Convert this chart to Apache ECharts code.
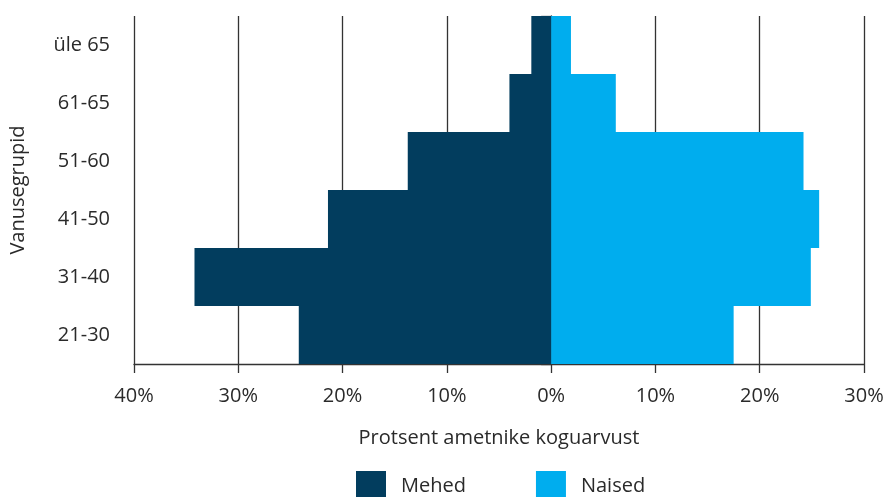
<!DOCTYPE html>
<html><head><meta charset="utf-8">
<script src="https://cdn.jsdelivr.net/npm/echarts@6/dist/echarts.min.js"></script>
<style>html,body{margin:0;padding:0;background:#fff}#c{width:887px;height:497px}</style>
</head><body><div id="c"></div>
<script>
const categories = ['21-30', '31-40', '41-50', '51-60', '61-65', 'üle 65'];
const mehed = [24.2, 34.2, 21.4, 13.75, 4.0, 1.9];
const naised = [17.5, 24.9, 25.7, 24.2, 6.2, 1.9];
const xTicks = { min: -40, max: 30, interval: 10 };
const FONT = 'Open Sans';
const FS = 20;
const TXT = '#2a2a2a';
const chart = echarts.init(document.getElementById('c'));
chart.setOption({
  animation: false,
  textStyle: { fontFamily: FONT },
  grid: { left: 131, right: 23, top: 16, bottom: 133 },
  legend: {
    left: 351, top: 466, itemWidth: 30, itemHeight: 30, itemGap: 70,
    icon: 'rect',
    textStyle: { fontFamily: FONT, fontSize: FS, color: TXT, padding: [9, 0, 0, 10] },
    data: ['Mehed', 'Naised']
  },
  xAxis: {
    type: 'value', min: xTicks.min, max: xTicks.max, interval: xTicks.interval,
    name: 'Protsent ametnike koguarvust', nameLocation: 'middle', nameGap: 64,
    nameTextStyle: { fontSize: FS, color: TXT, fontFamily: FONT },
    axisLine: { show: true, lineStyle: { color: '#333', width: 1.3 } },
    axisTick: { show: true, length: 9, lineStyle: { color: '#333', width: 1.3 } },
    axisLabel: { formatter: v => Math.abs(v) + '%', fontSize: FS, color: TXT, margin: 22, fontFamily: FONT },
    splitLine: { show: true, lineStyle: { color: '#333', width: 1.3 } }
  },
  yAxis: {
    type: 'category', data: categories, boundaryGap: true,
    name: 'Vanusegrupid', nameLocation: 'middle', nameGap: 106, nameRotate: 90,
    nameTextStyle: { fontSize: FS, color: TXT, fontFamily: FONT },
    axisLine: { show: true, lineStyle: { color: '#333', width: 1.3 } },
    axisTick: { show: true, length: 10, interval: 0, lineStyle: { color: '#333', width: 1.3 } },
    axisLabel: { fontSize: FS, color: TXT, margin: 24, fontFamily: FONT }
  },
  series: [
    { name: 'Mehed', type: 'bar', stack: 'a', barWidth: '100%', data: mehed.map(v => -v),
      itemStyle: { color: '#023d5e' } },
    { name: 'Naised', type: 'bar', stack: 'a', barWidth: '100%', data: naised,
      itemStyle: { color: '#00adee' } }
  ]
});
</script></body></html>
